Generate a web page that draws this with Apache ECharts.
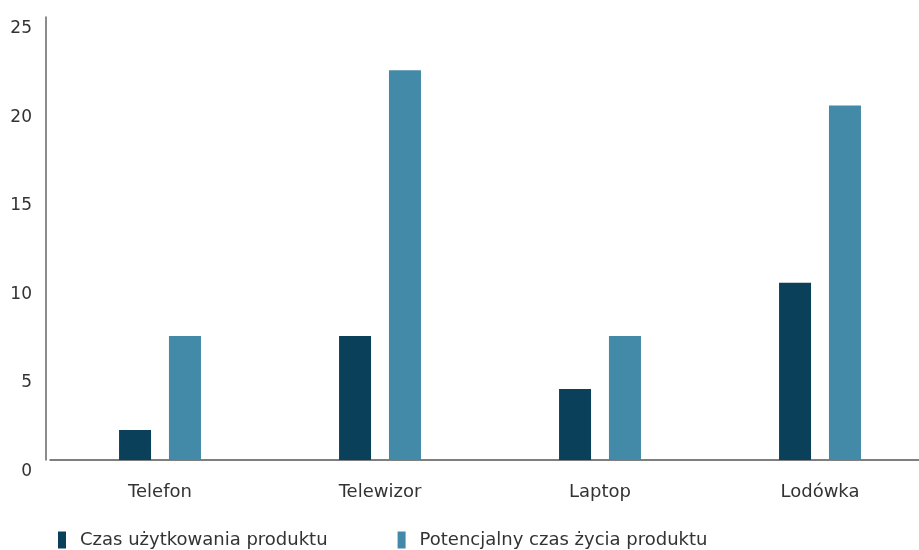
<!DOCTYPE html>
<html>
<head>
<meta charset="utf-8">
<script src="https://cdn.jsdelivr.net/npm/echarts@6/dist/echarts.min.js"></script>
<style>
  html, body { margin: 0; padding: 0; background: #fff; }
  #chart { width: 919px; height: 550px; }
</style>
</head>
<body>
<div id="chart"></div>
<script>
// Product categories and lifetimes in years
const categories = ['Telefon', 'Telewizor', 'Laptop', 'Lodówka'];
const usageYears = [1.7, 7, 4, 10];
const potentialYears = [7, 22, 7, 20];
const seriesNames = ['Czas użytkowania produktu', 'Potencjalny czas życia produktu'];
const yTicks = [0, 5, 10, 15, 20, 25];

const FONT = '"DejaVu Sans", sans-serif';
const TEXT = '#333333';

const chart = echarts.init(document.getElementById('chart'), null, { renderer: 'canvas' });

chart.setOption({
  animation: false,
  backgroundColor: '#ffffff',
  textStyle: { fontFamily: FONT },
  grid: { left: 50, top: 17, width: 880, bottom: 90, outerBoundsMode: 'none' },
  legend: {
    top: 526,
    left: 53,
    itemWidth: 8,
    itemHeight: 17,
    itemGap: 70,
    icon: 'rect',
    textStyle: { fontFamily: FONT, fontSize: 18, color: TEXT, padding: [0, 0, 0, 9] },
    data: seriesNames
  },
  xAxis: {
    type: 'category',
    data: categories,
    axisLine: { show: true, lineStyle: { color: '#555', width: 1.5 } },
    axisTick: { show: false },
    axisLabel: { fontFamily: FONT, fontSize: 18, color: TEXT, margin: 23 }
  },
  yAxis: {
    type: 'value',
    min: yTicks[0],
    max: yTicks[yTicks.length - 1],
    interval: 5,
    offset: 4,
    axisLine: { show: true, lineStyle: { color: '#666', width: 1.5 } },
    axisTick: { show: false },
    splitLine: { show: false },
    axisLabel: {
      fontFamily: FONT, fontSize: 17, color: TEXT, margin: 14,
      verticalAlign: 'top', padding: [3, 0, 0, 0]
    }
  },
  series: [
    {
      name: seriesNames[0],
      type: 'bar',
      data: usageYears,
      barWidth: 32,
      barGap: '56%',
      itemStyle: { color: '#0b405a' }
    },
    {
      name: seriesNames[1],
      type: 'bar',
      data: potentialYears,
      barWidth: 32,
      itemStyle: { color: '#428aa7' }
    }
  ]
});
</script>
</body>
</html>
